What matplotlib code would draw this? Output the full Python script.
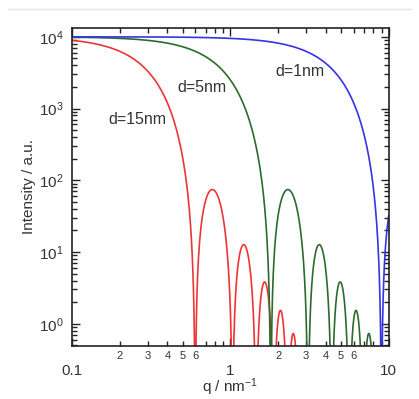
import matplotlib
matplotlib.use('Agg')
import matplotlib.pyplot as plt
import matplotlib.ticker as ticker
from matplotlib.lines import Line2D
import numpy as np

plt.rcParams['font.family'] = ['Liberation Sans', 'DejaVu Sans']
plt.rcParams['mathtext.default'] = 'regular'

diameters = [15, 5, 1]
labels = ['d=15nm', 'd=5nm', 'd=1nm']
colors = ['#ee3535', '#2d6b2d', '#3434e6']
I0 = 1e4
# label anchor positions (q, I)
labelQ = [0.169, 0.46, 1.91]
labelI = [697, 1946, 3250]

yTicks = [1, 10, 100, 1000, 10000]
yTickLabels = [r'$10^{0}$', r'$10^{1}$', r'$10^{2}$', r'$10^{3}$', r'$10^{4}$']
xTicks = [0.1, 1, 10]
xTickLabels = ['0.1', '1', '10']

figureWidth = 4.19
figureHeight = 3.99
fig = plt.figure(figsize=(figureWidth, figureHeight), dpi=100)

panel1 = plt.axes([0.172, 0.133, 0.756, 0.797])

q = np.logspace(-1, 1, 6000)
for d, c in zip(diameters, colors):
    x = q * d / 2.0
    amp = 3 * (np.sin(x) - x * np.cos(x)) / x**3
    panel1.plot(q, I0 * amp**2, color=c, linewidth=1.2)

for t, qx, iy in zip(labels, labelQ, labelI):
    panel1.text(qx, iy, t, fontsize=11.5, va='center', ha='left', color='#333333')

panel1.set_xscale('log')
panel1.set_yscale('log')
panel1.set_xlim(0.1, 10)
panel1.set_ylim(0.49, 1.33e4)

panel1.set_xticks(xTicks)
panel1.set_xticklabels(xTickLabels)
panel1.set_yticks(yTicks)
panel1.set_yticklabels(yTickLabels)
panel1.yaxis.set_minor_locator(ticker.LogLocator(base=10, subs=np.arange(2, 10)))
panel1.yaxis.set_minor_formatter(ticker.NullFormatter())
panel1.xaxis.set_minor_locator(ticker.LogLocator(base=10, subs=np.arange(2, 10)))


def minorFmt(v, pos):
    m = v / 10**np.floor(np.log10(v) + 1e-9)
    m = int(round(m))
    if 2 <= m <= 6:
        return str(m)
    return ''


panel1.xaxis.set_minor_formatter(ticker.FuncFormatter(minorFmt))

panel1.tick_params(which='both', direction='in', top=True, right=True,
                   color='#222222', width=1)
panel1.tick_params(which='major', length=6, labelsize=11, labelcolor='#333333')
panel1.tick_params(axis='x', which='major', pad=13)
panel1.tick_params(axis='y', which='major', pad=6)
panel1.tick_params(which='minor', length=3.5, labelsize=8, labelcolor='#333333')
panel1.tick_params(axis='x', which='minor', pad=3.5)
for s in panel1.spines.values():
    s.set_linewidth(1.2)
    s.set_color('#222222')

panel1.set_xlabel(r'q / nm$^{-1}$', fontsize=11, color='#333333', labelpad=-1)
panel1.set_ylabel('Intensity / a.u.', fontsize=11, color='#333333', labelpad=2)

# faint frame line of the original screenshot
fig.add_artist(Line2D([0.02, 0.98], [1 - 9 / 399, 1 - 9 / 399], color='#e4e4e4', linewidth=1))

plt.savefig('out.png', dpi=100)
